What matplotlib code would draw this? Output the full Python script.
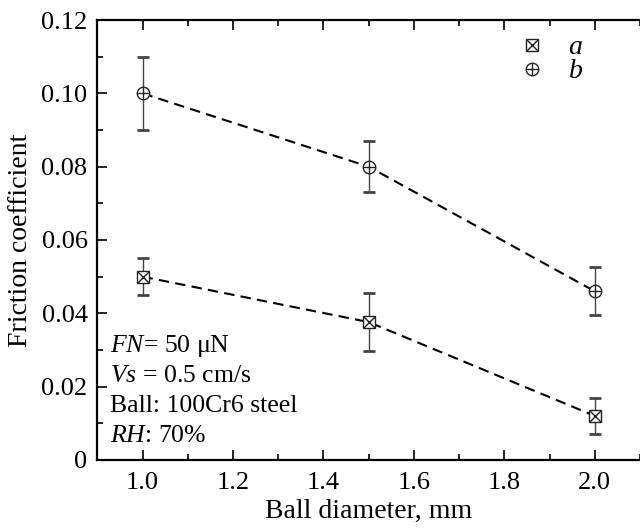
import numpy as np
import matplotlib
matplotlib.use("Agg")
import matplotlib.pyplot as plt
from matplotlib.ticker import MultipleLocator, FormatStrFormatter

plt.rcParams['font.family'] = ['Liberation Serif', 'DejaVu Serif']
plt.rcParams['mathtext.fontset'] = 'custom'
plt.rcParams['mathtext.rm'] = 'Liberation Serif'
plt.rcParams['mathtext.it'] = 'Liberation Serif:italic'

# ball diameter, mm
diameter = [1.0, 1.5, 2.0]
# series a (square markers)
mu_a = [0.050, 0.0376, 0.012]
err_a = [0.005, 0.008, 0.005]
# series b (circle markers)
mu_b = [0.100, 0.080, 0.046]
err_b = [0.010, 0.007, 0.0065]

fig = plt.figure(figsize=(6.4, 5.28), dpi=100)
ax = fig.add_axes([0.152, 0.129, 0.848, 0.833])

ms = 9
for y, e, m_out, m_in in [(mu_a, err_a, 's', 'x'), (mu_b, err_b, 'o', '+')]:
    ax.plot(diameter, y, ls=(0, (5, 3)), color='black', lw=1.5, zorder=2)
    ax.errorbar(diameter, y, yerr=e, fmt='none', ecolor='#444444',
                elinewidth=1.0, capsize=4.5, capthick=2.0, zorder=3)
    ax.plot(diameter, y, ls='none', marker=m_out, ms=ms, mfc='white',
            mec='#222222', mew=1.0, zorder=4)
    ax.plot(diameter, y, ls='none', marker=m_in, ms=ms * 0.95,
            mec='#222222', mew=1.0, zorder=5)

# legend handles: outline marker with inner cross
la1, = ax.plot([], [], ls='none', marker='s', ms=ms, mfc='white', mec='#222222', mew=1.0)
la2, = ax.plot([], [], ls='none', marker='x', ms=ms * 0.95, mec='#222222', mew=1.0)
lb1, = ax.plot([], [], ls='none', marker='o', ms=ms, mfc='white', mec='#222222', mew=1.0)
lb2, = ax.plot([], [], ls='none', marker='+', ms=ms * 0.95, mec='#222222', mew=1.0)
ax.legend([(la1, la2), (lb1, lb2)], ['$a$', '$b$'], loc='upper right',
          bbox_to_anchor=(0.931, 1.01), frameon=False, fontsize=20,
          handlelength=0.8, handleheight=0.5, handletextpad=0.9,
          labelspacing=-0.05, borderpad=0.2)

ax.set_xlim(0.9, 2.1)
ax.set_ylim(0, 0.12)
ax.xaxis.set_major_locator(MultipleLocator(0.2))
ax.xaxis.set_minor_locator(MultipleLocator(0.1))
ax.yaxis.set_major_locator(MultipleLocator(0.02))
ax.yaxis.set_minor_locator(MultipleLocator(0.01))
ax.xaxis.set_major_formatter(FormatStrFormatter('%.1f'))
ax.yaxis.set_major_formatter(lambda v, p: '0' if v == 0 else f'{v:.2f}')

ax.tick_params(which='both', direction='in', top=True, right=False,
               labelsize=19, width=1.2)
ax.tick_params(axis='x', pad=9)
ax.tick_params(axis='y', pad=7)
ax.tick_params(which='major', length=7)
ax.tick_params(which='minor', length=4)
for side in ['left', 'bottom', 'top']:
    ax.spines[side].set_linewidth(1.6)
ax.spines['right'].set_visible(False)

ax.set_xlabel('Ball diameter, mm', fontsize=20, labelpad=3)
ax.set_ylabel('Friction coefficient', fontsize=20, labelpad=6)

notes = ['$FN$= 50 μN', '$Vs$ = 0.5 cm/s', 'Ball: 100Cr6 steel', '$RH$: 70%']
for i, s in enumerate(notes):
    ax.text(0.024, 0.259 - i * 0.068, s, transform=ax.transAxes,
            fontsize=18.5, va='center', ha='left')

fig.savefig('out.png', dpi=100)
